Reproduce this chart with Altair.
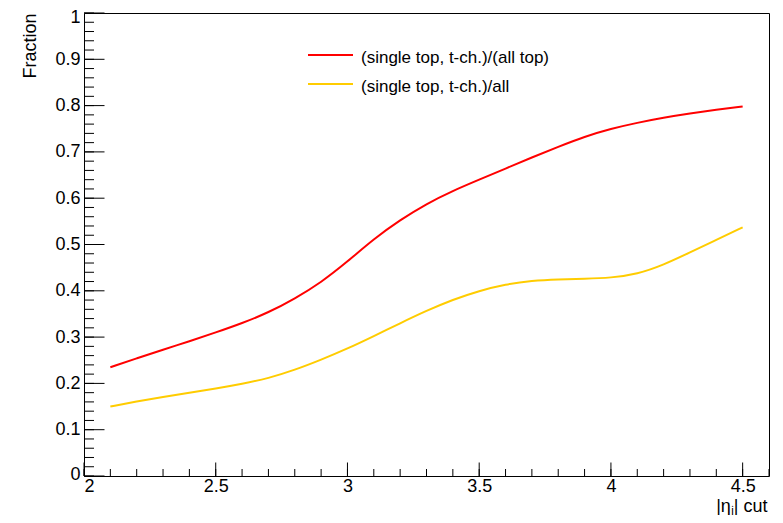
import altair as alt
import pandas as pd

# ---- data ----
eta_cut = [2.1, 2.2, 2.3, 2.4, 2.5, 2.6, 2.7, 2.8, 2.9, 3.0, 3.1, 3.2, 3.3,
           3.4, 3.5, 3.6, 3.7, 3.8, 3.9, 4.0, 4.1, 4.2, 4.3, 4.4, 4.5]
frac_all_top = [0.235, 0.254, 0.273, 0.291, 0.310, 0.330, 0.353, 0.383, 0.418,
                0.463, 0.512, 0.553, 0.588, 0.616, 0.640, 0.664, 0.688, 0.711,
                0.733, 0.750, 0.763, 0.774, 0.783, 0.791, 0.798]
frac_all = [0.150, 0.161, 0.171, 0.180, 0.189, 0.199, 0.211, 0.229, 0.251,
            0.275, 0.302, 0.330, 0.357, 0.381, 0.400, 0.414, 0.422, 0.425,
            0.426, 0.428, 0.436, 0.456, 0.483, 0.510, 0.537]
series_names = ["(single top, t-ch.)/(all top)", "(single top, t-ch.)/all"]
series_colors = ["#ff0000", "#ffcc00"]

x_major = [2, 2.5, 3, 3.5, 4, 4.5]
x_minor = [round(2 + 0.1 * i, 2) for i in range(27)]
y_major = [round(0.1 * i, 2) for i in range(11)]
y_minor = [round(0.02 * i, 2) for i in range(51)]

FONT = "Liberation Sans"
W, H = 685, 463

df = pd.DataFrame({
    "eta": eta_cut * 2,
    "frac": frac_all_top + frac_all,
    "series": [series_names[0]] * len(eta_cut) + [series_names[1]] * len(eta_cut),
})

xscale = alt.Scale(domain=[2, 4.6], nice=False, zero=False)
yscale = alt.Scale(domain=[0, 1], nice=False, zero=False)

lines = alt.Chart(df).mark_line(strokeWidth=2, interpolate="basis").encode(
    x=alt.X("eta:Q", scale=xscale,
            axis=alt.Axis(values=x_major, format="~g", ticks=False, domain=False,
                          grid=False, labelFont=FONT, labelFontSize=18,
                          labelColor="black", labelPadding=1,
                          title="|ηⱼ| cut", titleFont=FONT, titleFontSize=18,
                          titleFontWeight="normal", titleColor="black",
                          titleAnchor="end", titleAlign="right",
                          titleBaseline="alphabetic", titleX=683, titleY=35)),
    y=alt.Y("frac:Q", scale=yscale,
            axis=alt.Axis(values=y_major, format="~g", ticks=False, domain=False,
                          grid=False, labelFont=FONT, labelFontSize=18,
                          labelColor="black", labelPadding=4,
                          labelOffset={"condition": [
                              {"test": "datum.value == 1", "value": 4},
                              {"test": "datum.value == 0", "value": -2}],
                              "value": 0},
                          title="Fraction", titleFont=FONT, titleFontSize=18,
                          titleFontWeight="normal", titleColor="black",
                          titleAngle=270, titleAlign="right",
                          titleBaseline="middle", titleX=-54, titleY=0)),
    color=alt.Color("series:N", scale=alt.Scale(domain=series_names, range=series_colors),
                    legend=None),
)

# inward ticks (ROOT style)
ymaj = alt.Chart(pd.DataFrame({"v": y_major})).mark_rule(color="black", strokeWidth=1).encode(
    y=alt.Y("v:Q", scale=yscale), x=alt.value(0), x2=alt.value(20.5))
ymin = alt.Chart(pd.DataFrame({"v": y_minor})).mark_rule(color="black", strokeWidth=1).encode(
    y=alt.Y("v:Q", scale=yscale), x=alt.value(0), x2=alt.value(10))
xmaj = alt.Chart(pd.DataFrame({"v": x_major})).mark_rule(color="black", strokeWidth=1).encode(
    x=alt.X("v:Q", scale=xscale), y=alt.value(H), y2=alt.value(H - 13.5))
xmin = alt.Chart(pd.DataFrame({"v": x_minor})).mark_rule(color="black", strokeWidth=1).encode(
    x=alt.X("v:Q", scale=xscale), y=alt.value(H), y2=alt.value(H - 7))

# manual legend
legend_layers = []
leg_y = [42, 71]
for name, col, ly in zip(series_names, series_colors, leg_y):
    ld = pd.DataFrame({"name": [name]})
    legend_layers.append(
        alt.Chart(ld).mark_rule(color=col, strokeWidth=2).encode(
            x=alt.value(224), x2=alt.value(269), y=alt.value(ly)))
    legend_layers.append(
        alt.Chart(ld).mark_text(align="left", baseline="alphabetic", font=FONT,
                                fontSize=17, color="black").encode(
            text="name:N", x=alt.value(277), y=alt.value(ly + 8)))

chart = alt.layer(ymin, ymaj, xmin, xmaj, lines, *legend_layers).properties(
    width=W, height=H,
    autosize=alt.AutoSizeParams(type="none"),
    padding={"left": 76, "top": 5, "right": 6, "bottom": 39},
    background="white",
).configure_view(stroke="black", strokeWidth=1)

chart.save("out.html", embed_options={"renderer": "svg", "actions": False})
